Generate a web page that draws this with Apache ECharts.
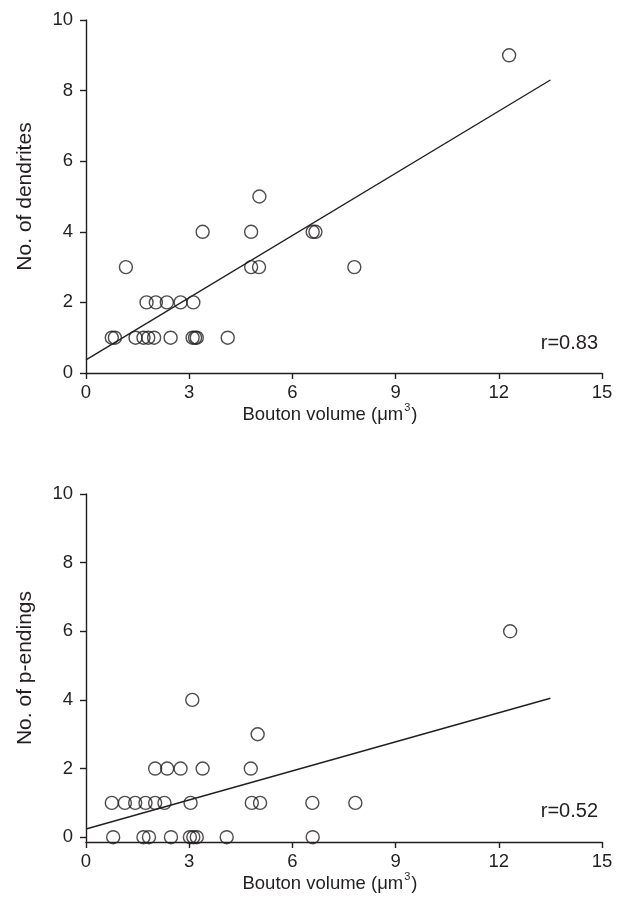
<!DOCTYPE html>
<html>
<head>
<meta charset="utf-8">
<script src="https://cdn.jsdelivr.net/npm/echarts@6/dist/echarts.min.js"></script>
<style>
  html, body { margin: 0; padding: 0; background: #fff; }
  #chart { width: 624px; height: 910px; }
</style>
</head>
<body>
<div id="chart"></div>
<script>
// bouton volume (um^3) vs number of dendrites
const boutonTop = [0.75, 0.84, 1.44, 1.67, 1.81, 1.98, 2.46, 3.10, 3.17, 3.22, 4.12,
  1.76, 2.03, 2.35, 2.75, 3.12,
  1.16, 4.80, 5.03, 7.80,
  3.39, 4.80, 6.59, 6.67,
  5.04, 12.3];
const dendrites = [1, 1, 1, 1, 1, 1, 1, 1, 1, 1, 1,
  2, 2, 2, 2, 2,
  3, 3, 3, 3,
  4, 4, 4, 4,
  5, 9];

// bouton volume vs number of p-endings
const boutonBottom = [0.79, 1.67, 1.83, 2.47, 3.02, 3.12, 3.22, 4.09, 6.59,
  0.75, 1.13, 1.43, 1.73, 2.01, 2.28, 3.04, 4.82, 5.06, 6.58, 7.83,
  2.01, 2.36, 2.75, 3.39, 4.79,
  4.99, 3.09, 12.33];
const pEndings = [0, 0, 0, 0, 0, 0, 0, 0, 0,
  1, 1, 1, 1, 1, 1, 1, 1, 1, 1, 1,
  2, 2, 2, 2, 2,
  3, 4, 6];

// regression lines
const fitX = [0, 13.5];
const dendriteFit = [0.37, 8.3];
const pEndingFit = [0.24, 4.05];

const yTicks = [0, 2, 4, 6, 8, 10];

const ink = "#231f20";
const font = "Liberation Sans";
const fontSize = 18.5;

const chart = echarts.init(document.getElementById("chart"), null, { renderer: "canvas" });

function xAxisFor(idx) {
  return {
    gridIndex: idx,
    type: "value",
    min: 0,
    max: 15,
    interval: 3,
    name: "Bouton volume (μm{sup|3})",
    nameLocation: "middle",
    nameGap: 26,
    nameTextStyle: {
      color: ink, fontFamily: font, fontSize: fontSize, verticalAlign: "top",
      padding: [0, 28, 0, 0],
      rich: { sup: { fontSize: 11, verticalAlign: "top", padding: [0, 1, 13, 1], fontFamily: font, color: ink } }
    },
    axisLine: { onZero: false, lineStyle: { color: ink, width: 1.4 } },
    axisTick: { show: true, length: 6, lineStyle: { color: ink, width: 1.4 } },
    axisLabel: { color: ink, fontFamily: font, fontSize: fontSize, margin: 10 },
    splitLine: { show: false }
  };
}

function yAxisFor(idx, name, min) {
  return {
    gridIndex: idx,
    type: "value",
    min: min,
    max: 10,
    name: name,
    nameLocation: "middle",
    nameGap: 50,
    nameTextStyle: { color: ink, fontFamily: font, fontSize: 21 },
    axisLine: { onZero: false, lineStyle: { color: ink, width: 1.4 } },
    axisTick: { show: true, length: 6, customValues: yTicks, lineStyle: { color: ink, width: 1.4 } },
    axisLabel: { color: ink, fontFamily: font, fontSize: fontSize, margin: 13, customValues: yTicks },
    splitLine: { show: false }
  };
}

function scatterFor(idx, xs, ys) {
  return {
    type: "scatter",
    xAxisIndex: idx,
    yAxisIndex: idx,
    symbol: "circle",
    symbolSize: 13,
    clip: false,
    itemStyle: { color: "rgba(0,0,0,0)", borderColor: ink, borderWidth: 1.4 },
    data: xs.map((x, i) => [x, ys[i]]),
    z: 3
  };
}

function fitFor(idx, ys) {
  return {
    type: "line",
    xAxisIndex: idx,
    yAxisIndex: idx,
    symbol: "none",
    lineStyle: { color: ink, width: 1.4 },
    data: fitX.map((x, i) => [x, ys[i]]),
    z: 2
  };
}

const option = {
  animation: false,
  backgroundColor: "#fff",
  grid: [
    { left: 86, top: 20, width: 516, height: 353 },
    { left: 86, top: 494, width: 516, height: 348 }
  ],
  xAxis: [xAxisFor(0), xAxisFor(1)],
  yAxis: [
    yAxisFor(0, "No. of dendrites", 0),
    yAxisFor(1, "No. of p-endings", -0.14)
  ],
  series: [
    scatterFor(0, boutonTop, dendrites),
    fitFor(0, dendriteFit),
    scatterFor(1, boutonBottom, pEndings),
    fitFor(1, pEndingFit)
  ],
  graphic: [
    { type: "text", right: 26, top: 333, style: { text: "r=0.83", font: "20px " + font, fill: ink } },
    { type: "text", right: 26, top: 801, style: { text: "r=0.52", font: "20px " + font, fill: ink } }
  ]
};

chart.setOption(option);
</script>
</body>
</html>
